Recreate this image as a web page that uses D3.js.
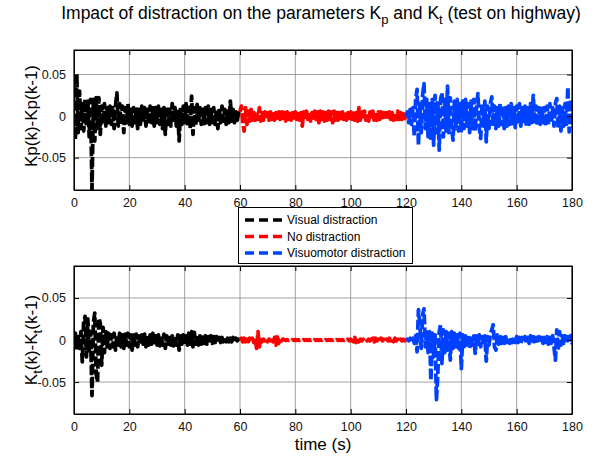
<!DOCTYPE html>
<html>
<head>
<meta charset="UTF-8">
<title>Impact of distraction</title>
<script src="https://cdn.jsdelivr.net/npm/d3@7"></script>
<style>
  body { margin: 0; background: #fff; }
  svg { font-family: "Liberation Sans", Arial, sans-serif; }
</style>
</head>
<body>
<script>
// values are in thousandths (x 1e-3), sampled every 0.5 s inside each 60 s phase
var phases = ["Visual distraction", "No distraction", "Visuomotor distraction"];
var phaseStart = [0, 60, 120];
var phaseColors = ["#000000", "#ff0000", "#0040ff"];
var xTicks = [0, 20, 40, 60, 80, 100, 120, 140, 160, 180];
var yTicks = [-0.05, 0, 0.05];

// top panel: Kp(k)-Kp(k-1)
var kpVisual = [0,-28,50,-20,30,-15,15,-18,20,-12, 18,-25,20,-88,20,-30,22,-15,22,-22,
  12,-10,15,-12,10,-8,12,-10,10,-15, 12,28,-12,15,-10,12,-20,10,-8,15,
  -10,8,-12,10,-8,12,-15,8,-10,12, -8,10,-12,8,-10,12,-8,10,-12,10,
  -8,12,-10,8,-15,10,-22,12,-10,8, -12,15,-8,10,-12,8,-30,10,-10,12,
  -8,15,-12,10,-15,24,-22,10,-12,14, -8,10,-10,8,-12,10,-8,12,-10,8,
  -8,10,-10,8,-15,10,-8,12,-6,8, -10,6,-8,18,-6,8,-8,5,-5,4,0];
var kpNone = [5,12,-8,-18,10,-10,6,-6,8,-5, 4,-5,6,-4,10,-6,4,-5,5,-4,
  4,-5,5,-4,6,-5,4,-6,5,-4, 8,-5,4,-6,5,-4,6,-5,4,-6,
  5,-4,6,-5,4,-12,5,-5,6,-4, 5,-6,4,-5,6,-4,5,-8,6,-4,
  5,-6,4,-5,6,-4,5,-8,6,-5, 8,-5,4,-6,5,-4,6,-5,4,-6,
  5,-4,6,-5,4,-6,10,-5,5,-4, 6,-5,4,-6,5,-4,6,-5,4,-5,
  5,-4,5,-4,4,-5,4,-4,5,-4, 4,-5,4,-4,6,-4,4,-4,3,-3,0];
var kpVisuomotor = [0,5,-8,8,-10,10,-25,20,32,-35, 15,-20,25,39,-15,20,-25,15,-29,20,
  -35,25,-20,18,-41,20,28,-25,20,-18, 36,-20,22,-15,-29,18,-15,20,-18,15,
  -20,18,-15,20,-12,15,-20,18,-15,20, -18,12,27,-15,-27,15,-12,18,-31,12,
  -15,15,23,-12,12,-15,10,-12,15,-10, 12,-15,10,-12,12,-10,15,-12,10,-14,
  12,-10,15,-12,10,-10,12,-12,10,-10, 15,-8,25,-10,12,-12,10,-10,12,-8,
  10,-12,12,-10,15,-8,10,-12,15,21, -15,12,-18,10,-12,15,-10,35,-19,20,-15];

// bottom panel: Kt(k)-Kt(k-1)
var ktVisual = [0,8,-12,6,-10,10,-26,22,28,-20, 25,-15,10,-66,20,32,-40,-50,26,20,
  -30,15,-15,10,-8,8,-10,6,-8,8, -12,6,-6,8,-8,6,-10,7,-6,8,
  -8,6,-12,6,-6,7,-8,5,-6,6, -5,7,-8,5,-6,6,-5,8,-6,5,
  -6,6,-7,5,-6,7,-10,5,-5,6, -6,5,-7,5,-6,6,-12,5,-5,6,
  -6,5,-6,8,-5,10,-8,9,-5,6, -6,5,-5,6,-4,5,-5,4,-4,5,
  -4,4,-3,4,-3,3,-3,3,-2,3, -2,2,-2,2,-2,3,-2,2,-1,1,0];
var ktNone = [0,2,-2,2,-2,1,-2,2,-1,2, -3,3,-10,10,-8,3,-2,1,-1,2,
  -2,1,-1,2,-2,3,-6,6,-4,2, -1,1,0.5,-0.5,0.5,-0.5,0.5,-0.5,0.5,-0.5,
  0.5,-0.5,0.5,-0.5,0.5,-0.5,0.5,-0.5,0.5,-0.5, 0.5,-0.5,0.5,-0.5,0.5,-0.5,0.5,-0.5,0.5,-0.5,
  0.5,-0.5,0.5,-0.5,0.5,-0.5,0.5,-0.5,0.5,-0.5, 0.5,-0.5,0.5,-0.5,0.5,-0.5,0.5,-0.5,1,-1,
  1,-1,-2,3,-3,2,-2,1,-1,1, -1,1,-1,1,-1,1,2,-2,2,-1,
  1,-2,2,-1,1,-2,1,-1,2,-1, 1,-2,2,-1,1,-2,1,-1,1,-1,0];
var ktVisuomotor = [0,1,-1,2,-2,2,-4,5,-14,36, 20,-10,30,37,-8,12,-15,10,-48,8,
  -20,6,-71,-40,10,18,-28,12,-15,10, -12,8,-24,10,-10,8,-8,6,-10,8,
  -34,6,-8,5,-6,6,-10,5,-6,5, -16,5,-5,6,-8,4,-6,5,-25,4,
  -6,8,12,18,-8,-12,6,-5,4,-4, 3,-4,4,-3,3,-4,4,-3,3,-3,
  4,-3,3,-4,3,-3,4,-3,3,-4, 5,-3,4,-5,3,-4,4,-3,3,-4,
  3,-3,4,-5,3,-4,5,-8,-24,12, -12,10,-6,5,-4,5,-4,4,-3,5,-5];

var kpSeries = [kpVisual, kpNone, kpVisuomotor];
var ktSeries = [ktVisual, ktNone, ktVisuomotor];

var W = 594, H = 457;
var svg = d3.select("body").append("svg").attr("width", W).attr("height", H);

var x = d3.scaleLinear().domain([0, 180]).range([74, 572]);

function panel(id, top, bottom, ydom, series) {
  var y = d3.scaleLinear().domain(ydom).range([bottom, top]);
  var g = svg.append("g");

  g.append("clipPath").attr("id", id)
    .append("rect").attr("x", 74).attr("y", top).attr("width", 498).attr("height", bottom - top);

  // grid
  g.selectAll(".gx").data(xTicks).enter().append("line")
    .attr("x1", function(d) { return x(d); }).attr("x2", function(d) { return x(d); })
    .attr("y1", top).attr("y2", bottom)
    .attr("stroke", "#8c8c8c").attr("stroke-width", 0.8);
  g.selectAll(".gy").data(yTicks).enter().append("line")
    .attr("x1", 74).attr("x2", 572)
    .attr("y1", function(d) { return y(d); }).attr("y2", function(d) { return y(d); })
    .attr("stroke", "#8c8c8c").attr("stroke-width", 0.8);

  var line = d3.line()
    .x(function(d) { return x(d[0]); })
    .y(function(d) { return y(d[1] / 1000); });

  var lines = g.append("g").attr("clip-path", "url(#" + id + ")");
  series.forEach(function(vals, k) {
    var step = 60 / (vals.length - 1);
    var pts = vals.map(function(v, i) { return [phaseStart[k] + i * step, v]; });
    lines.append("path").datum(pts)
      .attr("d", line)
      .attr("fill", "none")
      .attr("stroke", phaseColors[k])
      .attr("stroke-width", 3.8)
      .attr("stroke-linejoin", "round")
      .attr("stroke-dasharray", "10,3");
  });

  // axes, ticks inward on all four sides
  g.append("g").attr("transform", "translate(0," + bottom + ")")
    .call(d3.axisBottom(x).tickValues(xTicks).tickSizeInner(-5).tickSizeOuter(0).tickPadding(8));
  g.append("g").attr("transform", "translate(0," + top + ")")
    .call(d3.axisTop(x).tickValues(xTicks).tickSizeInner(-5).tickSizeOuter(0).tickFormat(""));
  g.append("g").attr("transform", "translate(74,0)")
    .call(d3.axisLeft(y).tickValues(yTicks).tickSizeInner(-5).tickSizeOuter(0).tickPadding(8)
      .tickFormat(function(d) { return d === 0 ? "0" : d.toFixed(2); }));
  g.append("g").attr("transform", "translate(572,0)")
    .call(d3.axisRight(y).tickValues(yTicks).tickSizeInner(-5).tickSizeOuter(0).tickFormat(""));

  g.selectAll(".domain").attr("stroke", "#000").attr("stroke-width", 1);
  g.selectAll(".tick line").attr("stroke", "#000");
  g.selectAll(".tick text").attr("font-size", 12.5).attr("fill", "#111")
    .attr("font-family", "Liberation Sans, Arial, sans-serif");
  g.append("rect").attr("x", 74).attr("y", top).attr("width", 498).attr("height", bottom - top)
    .attr("fill", "none").attr("stroke", "#000").attr("stroke-width", 1);
  return y;
}

panel("clipTop", 50, 190, [-0.089, 0.0795], kpSeries);
panel("clipBot", 266, 414, [-0.088, 0.088], ktSeries);

// title
var title = svg.append("text").attr("x", 321).attr("y", 19)
  .attr("text-anchor", "middle").attr("font-size", 17.5);
title.append("tspan").text("Impact of distraction on the parameters K");
title.append("tspan").attr("font-size", 13).attr("dy", 5).text("p");
title.append("tspan").attr("dy", -5).text(" and K");
title.append("tspan").attr("font-size", 13).attr("dy", 5).text("t");
title.append("tspan").attr("dy", -5).text(" (test on highway)");

// y labels
svg.append("text").attr("transform", "translate(37,116) rotate(-90)")
  .attr("text-anchor", "middle").attr("font-size", 17)
  .text("Kp(k)-Kp(k-1)");

var yl = svg.append("text").attr("transform", "translate(37,340) rotate(-90)")
  .attr("text-anchor", "middle").attr("font-size", 17);
yl.append("tspan").text("K");
yl.append("tspan").attr("font-size", 13).attr("dy", 5).text("t");
yl.append("tspan").attr("dy", -5).text("(k)-K");
yl.append("tspan").attr("font-size", 13).attr("dy", 5).text("t");
yl.append("tspan").attr("dy", -5).text("(k-1)");

// x label
svg.append("text").attr("x", 323).attr("y", 450)
  .attr("text-anchor", "middle").attr("font-size", 17).text("time (s)");

// legend
var lg = svg.append("g");
lg.append("rect").attr("x", 238.5).attr("y", 207.5).attr("width", 174).attr("height", 56)
  .attr("fill", "#fff").attr("stroke", "#000").attr("stroke-width", 1);
phases.forEach(function(name, i) {
  var yy = 220 + i * 16.5;
  lg.append("line").attr("x1", 245).attr("x2", 283).attr("y1", yy).attr("y2", yy)
    .attr("stroke", phaseColors[i]).attr("stroke-width", 3.6).attr("stroke-dasharray", "9,5");
  lg.append("text").attr("x", 287).attr("y", yy + 4).attr("font-size", 12).text(name);
});
</script>
</body>
</html>
